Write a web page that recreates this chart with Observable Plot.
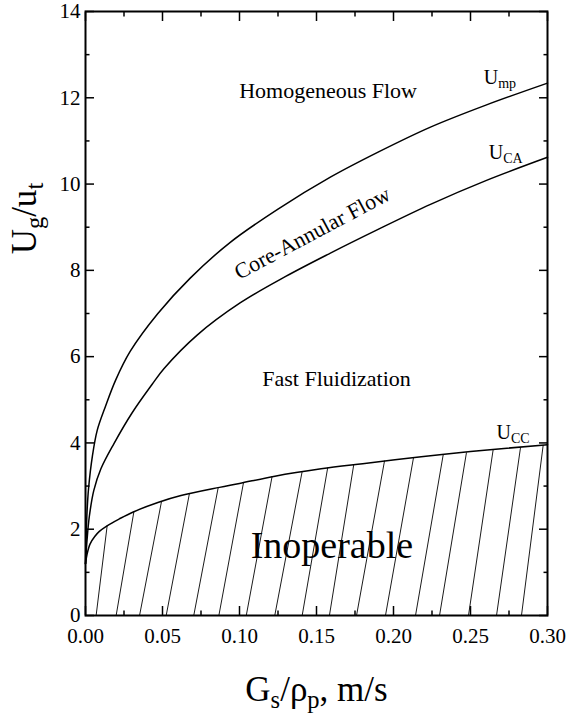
<!DOCTYPE html>
<html><head><meta charset="utf-8">
<script src="https://cdn.jsdelivr.net/npm/d3@7"></script>
<script src="https://cdn.jsdelivr.net/npm/@observablehq/plot@0.6"></script>
<style>body{margin:0;background:#fff} svg text{font-family:'Liberation Serif','Times New Roman',Times,serif}</style>
</head><body><div id="chart"></div>
<script>
// ---- data ----
const umpX = [0, 0.0005, 0.001, 0.002, 0.0045, 0.0076, 0.013, 0.0195, 0.029, 0.047, 0.068, 0.094, 0.125, 0.159, 0.19, 0.224, 0.26, 0.3];
const umpY = [1.2, 1.9, 2.4, 2.95, 3.7, 4.29, 4.85, 5.45, 6.12, 7.0, 7.82, 8.65, 9.42, 10.16, 10.74, 11.32, 11.83, 12.34];

const ucaX = [0, 0.001, 0.0025, 0.0054, 0.01, 0.0184, 0.0303, 0.0433, 0.0509, 0.0725, 0.1006, 0.13, 0.159, 0.19, 0.224, 0.26, 0.3];
const ucaY = [1.2, 1.75, 2.3, 2.9, 3.4, 3.98, 4.70, 5.36, 5.72, 6.50, 7.25, 7.86, 8.40, 8.95, 9.53, 10.08, 10.62];

const uccX = [0, 0.001, 0.003, 0.006, 0.009, 0.014, 0.022, 0.031, 0.047, 0.062, 0.087, 0.1, 0.123, 0.153, 0.18, 0.218, 0.25, 0.3];
const uccY = [1.2, 1.42, 1.66, 1.83, 1.95, 2.08, 2.24, 2.40, 2.62, 2.78, 2.97, 3.06, 3.23, 3.40, 3.52, 3.68, 3.80, 3.96];

// hatch lines of the inoperable region: foot on the x axis, head on U_CC
const hatchFootX = [0.0069, 0.0199, 0.0351, 0.0524, 0.0703, 0.0866, 0.1044, 0.1229, 0.1407, 0.1584, 0.1760, 0.1948, 0.2143, 0.2299, 0.2487, 0.2669, 0.2831];
const hatchHeadX = [0.0141, 0.0314, 0.0494, 0.0675, 0.0862, 0.1026, 0.1212, 0.1407, 0.1573, 0.1742, 0.1942, 0.2130, 0.2323, 0.2474, 0.2647, 0.2825, 0.2972];
const hatchHeadY = [2.09, 2.40, 2.65, 2.83, 2.97, 3.08, 3.23, 3.34, 3.43, 3.50, 3.59, 3.66, 3.73, 3.78, 3.84, 3.90, 3.95];

const xMajor = [0, 0.05, 0.10, 0.15, 0.20, 0.25, 0.30];
const xMinor = [0.025, 0.075, 0.125, 0.175, 0.225, 0.275];
const yMajor = [0, 2, 4, 6, 8, 10, 12, 14];
const yMinor = [1, 3, 5, 7, 9, 11, 13];

const regionLabels = ["Homogeneous Flow", "Core-Annular Flow", "Fast Fluidization", "Inoperable"];
const regionX = [0.1575, 0.1494, 0.163, 0.160];
const regionY = [12.0, 8.72, 5.33, 1.34];

const curveLabels = ["U_{mp}", "U_{CA}", "U_{CC}"];
const curveLabelX = [0.2586, 0.2619, 0.2669];
const curveLabelY = [12.33, 10.59, 4.10];

const xTitle = "G_{s}/ρ_{p}, m/s";
const yTitle = "U_{g}/u_{t}";
const yTitleAt = 9.2;

// ---- build ----
const FONT = "'Liberation Serif','Times New Roman',Times,serif";
const rows = (xs, ys) => xs.map((x, i) => ({x, y: ys[i]}));
const hatch = hatchFootX.map((x, i) => ({x1: x, y1: 0, x2: hatchHeadX[i], y2: hatchHeadY[i]}));
const lbl = (i) => [{t: regionLabels[i], x: regionX[i], y: regionY[i]}];
const curveLbl = curveLabels.map((t, i) => ({t, x: curveLabelX[i], y: curveLabelY[i]}));
const tk = {tickFormat: () => "", label: null, strokeWidth: 1.5};

const plot = Plot.plot({
  width: 568,
  height: 713,
  marginLeft: 85,
  marginRight: 21,
  marginTop: 11,
  marginBottom: 98,
  style: {fontFamily: FONT, background: "white", color: "black"},
  x: {domain: [0, 0.3]},
  y: {domain: [0, 14]},
  marks: [
    Plot.link(hatch, {x1: "x1", y1: "y1", x2: "x2", y2: "y2", stroke: "black", strokeWidth: 0.9}),
    Plot.line(rows(umpX, umpY), {x: "x", y: "y", curve: "catmull-rom", stroke: "black", strokeWidth: 1.5}),
    Plot.line(rows(ucaX, ucaY), {x: "x", y: "y", curve: "catmull-rom", stroke: "black", strokeWidth: 1.5}),
    Plot.line(rows(uccX, uccY), {x: "x", y: "y", curve: "catmull-rom", stroke: "black", strokeWidth: 1.5}),
    // ticks (inward, all four sides)
    Plot.axisX(xMajor, {anchor: "bottom", tickSize: -9, ...tk}),
    Plot.axisX(xMinor, {anchor: "bottom", tickSize: -4.5, ...tk}),
    Plot.axisX(xMajor, {anchor: "top", tickSize: -9, ...tk}),
    Plot.axisX(xMinor, {anchor: "top", tickSize: -4.5, ...tk}),
    Plot.axisY(yMajor, {anchor: "left", tickSize: -9, ...tk}),
    Plot.axisY(yMinor, {anchor: "left", tickSize: -4.5, ...tk}),
    Plot.axisY(yMajor, {anchor: "right", tickSize: -9, ...tk}),
    Plot.axisY(yMinor, {anchor: "right", tickSize: -4.5, ...tk}),
    // tick labels
    Plot.axisX(xMajor, {anchor: "bottom", tickSize: 0, tickPadding: 13, tickFormat: d3.format(".2f"), label: null, fontSize: 21, fontFamily: FONT}),
    Plot.axisY(yMajor, {anchor: "left", tickSize: 0, tickPadding: 5, tickFormat: d3.format("d"), label: null, fontSize: 21, fontFamily: FONT}),
    Plot.frame({stroke: "black", strokeWidth: 2}),
    // region labels
    Plot.text(lbl(0), {x: "x", y: "y", text: "t", fontSize: 22, fontFamily: FONT, lineAnchor: "bottom"}),
    Plot.text(lbl(1), {x: "x", y: "y", text: "t", fontSize: 22, fontFamily: FONT, lineAnchor: "bottom", rotate: -28}),
    Plot.text(lbl(2), {x: "x", y: "y", text: "t", fontSize: 22, fontFamily: FONT, lineAnchor: "bottom"}),
    Plot.text(lbl(3), {x: "x", y: "y", text: "t", fontSize: 38, fontFamily: FONT, lineAnchor: "bottom"}),
    // curve labels
    Plot.text(curveLbl, {x: "x", y: "y", text: "t", fontSize: 20, fontFamily: FONT, textAnchor: "start", lineAnchor: "bottom"}),
    // axis titles
    Plot.text([xTitle], {frameAnchor: "bottom", dy: 85, fontSize: 35, fontFamily: FONT, textAnchor: "middle", lineAnchor: "bottom"}),
    Plot.text([yTitleAt], {y: d => d, text: () => yTitle, frameAnchor: "left", dx: -50, fontSize: 35, fontFamily: FONT, textAnchor: "middle", lineAnchor: "bottom", rotate: -90})
  ]
});

document.getElementById("chart").appendChild(plot);

// turn "_{...}" into real subscripts
d3.select(plot).selectAll("text").each(function () {
  const s = this.textContent;
  if (!s.includes("_{")) return;
  const fs = parseFloat(getComputedStyle(this).fontSize) || 20;
  const shift = fs * 0.22;
  const parts = s.split(/(_\{[^}]*\})/).filter(p => p !== "");
  const el = d3.select(this);
  el.text("");
  let low = false;
  for (const p of parts) {
    const isSub = p.startsWith("_{");
    const txt = isSub ? p.slice(2, -1) : p;
    const ts = el.append("tspan").text(txt);
    if (isSub) { ts.attr("font-size", fs * 0.7); if (!low) { ts.attr("dy", shift); low = true; } }
    else if (low) { ts.attr("dy", -shift); low = false; }
  }
});
</script>
</body></html>
